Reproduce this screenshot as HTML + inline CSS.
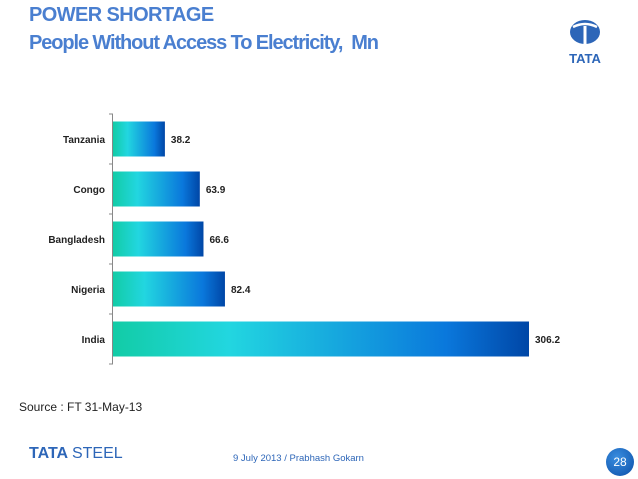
<!DOCTYPE html>
<html><head><meta charset="utf-8"><style>
body{margin:0;width:638px;height:479px;background:#fff;overflow:hidden;font-family:"Liberation Sans",sans-serif;position:relative}
.t{position:absolute;color:#4a7fd0;font-weight:bold;letter-spacing:-0.6px}
</style></head><body>
<div class="t" style="left:29px;top:4px;font-size:20px">POWER SHORTAGE</div>
<div class="t" style="left:29px;top:32px;font-size:20px;letter-spacing:-1.1px">People Without Access To Electricity,&nbsp; Mn</div>
<svg style="position:absolute;left:560px;top:18px" width="50" height="48" viewBox="0 0 50 48">
<ellipse cx="25" cy="14" rx="15" ry="12" fill="#2d66b8"/>
<rect x="23.5" y="8" width="3" height="18" fill="#fff"/>
<path d="M13 9 Q25 3 37 9" stroke="#fff" stroke-width="2.5" fill="none"/>
<text x="25" y="45" text-anchor="middle" font-family="Liberation Sans" font-weight="bold" font-size="13" fill="#2d66b8">TATA</text>
</svg>
<svg id="chart" style="position:absolute;left:0;top:0" width="638" height="479">
<defs><linearGradient id="g" x1="0" x2="1" y1="0" y2="0">
<stop offset="0" stop-color="#12cca6"/><stop offset="0.28" stop-color="#22d6e0"/><stop offset="0.8" stop-color="#0a78dc"/><stop offset="1" stop-color="#0046a6"/></linearGradient></defs>
</svg>
<div style="position:absolute;left:19px;top:400px;font-size:12px;color:#222">Source : FT 31-May-13</div>
<div style="position:absolute;left:29px;top:445px;font-size:16px;font-weight:bold;color:#2d66b8">TATA <span style="font-weight:normal">STEEL</span></div>
<div style="position:absolute;left:233px;top:453px;font-size:9.5px;color:#2d66b8">9 July 2013 / Prabhash Gokarn</div>
<div style="position:absolute;left:606px;top:448px;width:28px;height:28px;border-radius:50%;background:radial-gradient(circle at 40% 35%,#3a8ee0,#0b4fa8);color:#fff;font-size:12px;text-align:center;line-height:28px">28</div>
<script>
const categories=["Tanzania","Congo","Bangladesh","Nigeria","India"];
const values=[38.2,63.9,66.6,82.4,306.2];
const labels=["38.2","63.9","66.6","82.4","306.2"];
const svg=document.getElementById('chart');const NS='http://www.w3.org/2000/svg';
const x0=113,pxPer=416/306.2,top0=114,band=50,bh=35;
const xs=v=>x0+v*pxPer, ys=i=>top0+i*band;
function mk(t,a){const e=document.createElementNS(NS,t);for(const k in a)e.setAttribute(k,a[k]);svg.appendChild(e);return e;}
const ax=mk('line',{x1:x0-0.5,x2:x0-0.5,y1:top0,y2:top0+band*categories.length,stroke:'#888','stroke-width':1});


for(let i=0;i<=categories.length;i++){const tk=mk('line',{x1:x0-4,x2:x0,y1:ys(i),y2:ys(i),stroke:'#888'});

}
categories.forEach((c,i)=>{
const y=ys(i)+(band-bh)/2;
const r=mk('rect',{x:x0,y:y,width:xs(values[i])-x0,height:bh,fill:'url(#g)'});


const l=mk('text',{x:x0-8,y:y+bh/2+4,'text-anchor':'end','font-size':10,'font-weight':'bold','font-family':'Liberation Sans',fill:'#222'});l.textContent=c;


const v=mk('text',{x:xs(values[i])+6,y:y+bh/2+4,'font-size':10,'font-weight':'bold','font-family':'Liberation Sans',fill:'#222'});v.textContent=labels[i];


});
</script>
</body></html>
